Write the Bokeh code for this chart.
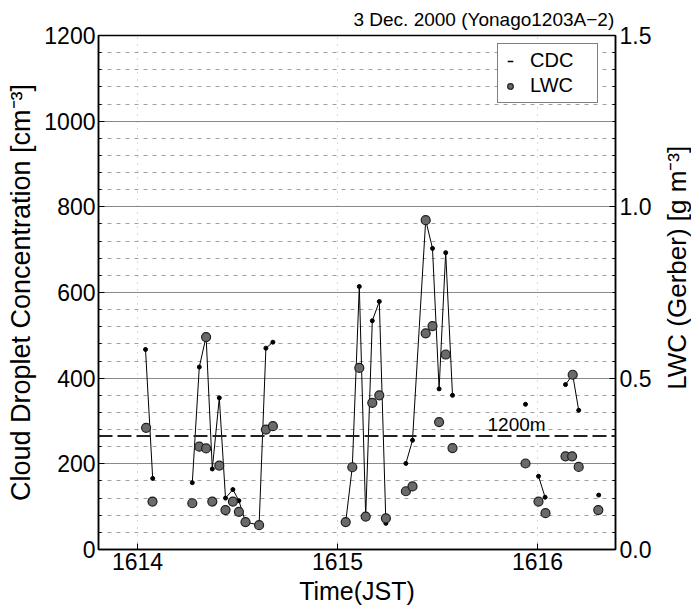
import math
from bokeh.plotting import figure
from bokeh.layouts import row
from bokeh.models import (Range1d, LinearAxis, FixedTicker, Span, Label,
                          Legend, LegendItem, ColumnDataSource, PrintfTickFormatter)
from bokeh.core.properties import value
from bokeh.embed import file_html
from bokeh.resources import INLINE

nan = float("nan")

# ---- data ----
cdc_time = [1614.040, 1614.076, nan,
            1614.274, 1614.309, 1614.343, 1614.374, 1614.409, 1614.440, 1614.477,
            1614.507, 1614.540, 1614.608, 1614.642, 1614.677, nan,
            1615.041, 1615.074, 1615.109, 1615.141, 1615.174, 1615.209, 1615.242, nan,
            1615.342, 1615.375, 1615.441, 1615.475, 1615.508, 1615.541, 1615.575, nan,
            1615.940, nan,
            1616.005, 1616.038, nan,
            1616.140, 1616.176, 1616.206, nan,
            1616.306]
cdc_value = [467, 166, nan,
             156, 426, 497, 188, 354, 120, 140,
             114, 64, 57, 470, 484, nan,
             64, 193, 614, 77, 534, 579, 61, nan,
             201, 255, 769, 703, 375, 693, 360, nan,
             339, nan,
             171, 122, nan,
             385, 408, 325, nan,
             127]

lwc_time = [1614.043, 1614.075,
            1614.274, 1614.309, 1614.343, 1614.343, 1614.374, 1614.409, 1614.440,
            1614.477, 1614.507, 1614.540, 1614.608, 1614.642, 1614.677,
            1615.041, 1615.074, 1615.109, 1615.141, 1615.174, 1615.209, 1615.242,
            1615.342, 1615.375, 1615.441, 1615.441, 1615.475, 1615.508, 1615.541, 1615.575,
            1615.940, 1616.005, 1616.040, 1616.140, 1616.173, 1616.176, 1616.206, 1616.304]
lwc_value = [0.355, 0.140,
             0.135, 0.300, 0.295, 0.620, 0.140, 0.245, 0.115,
             0.140, 0.110, 0.080, 0.071, 0.350, 0.360,
             0.080, 0.240, 0.530, 0.096, 0.428, 0.450, 0.091,
             0.170, 0.184, 0.961, 0.631, 0.652, 0.372, 0.569, 0.296,
             0.251, 0.140, 0.106, 0.272, 0.272, 0.510, 0.241, 0.115]

cdc_ticks = [0, 200, 400, 600, 800, 1000, 1200]
cdc_minor = [v for v in range(40, 1200, 40) if v % 200 != 0]
lwc_ticks = [0.0, 0.5, 1.0, 1.5]
lwc_minor = [round(0.05 * i, 2) for i in range(1, 30) if i % 10 != 0]
time_ticks = [1614, 1615, 1616]
level_cdc = 265
level_text = "1200m"
title_text = "3  Dec. 2000 (Yonago1203A\u22122)"
right_label = "LWC (Gerber) [g m\u207b\u00b3]"

FONT = "Liberation Sans"
TICK_FS = "23px"

p = figure(frame_width=517, frame_height=514,
           x_range=Range1d(1613.805, 1616.39), y_range=Range1d(0, 1200),
           output_backend="svg", toolbar_location=None,
           min_border_left=98, min_border_right=46,
           min_border_top=35, min_border_bottom=64,
           background_fill_color="white", border_fill_color="white")
p.extra_y_ranges = {"lwc": Range1d(0, 1.5)}

p.title.text = title_text
p.title.align = "right"
p.title.text_font = FONT
p.title.text_font_size = "19px"
p.title.text_font_style = "normal"
p.title.text_color = "black"
p.title.standoff = 11
p.title.offset = -4

p.outline_line_color = "black"
p.outline_line_width = 1.5

# grids
p.ygrid.ticker = FixedTicker(ticks=cdc_ticks, minor_ticks=cdc_minor)
p.ygrid.grid_line_color = "#8a8a8a"
p.ygrid.grid_line_width = 1
p.ygrid.minor_grid_line_color = "#a0a0a0"
p.ygrid.minor_grid_line_dash = "4 5"
p.ygrid.minor_grid_line_width = 1
p.xgrid.ticker = FixedTicker(ticks=time_ticks)
p.xgrid.grid_line_color = "#b0b0b0"
p.xgrid.grid_line_dash = "1 6"


def style_axis(ax, label_fs):
    ax.axis_line_width = 1.5
    ax.axis_line_color = "black"
    ax.major_tick_in = 6
    ax.major_tick_out = 0
    ax.minor_tick_in = 3
    ax.minor_tick_out = 0
    ax.major_tick_line_color = "black"
    ax.minor_tick_line_color = "black"
    ax.major_label_text_font = FONT
    ax.major_label_text_font_size = TICK_FS
    ax.major_label_text_color = "black"
    ax.axis_label_text_font = FONT
    ax.axis_label_text_font_size = label_fs
    ax.axis_label_text_font_style = "normal"
    ax.axis_label_text_color = "black"


style_axis(p.xaxis[0], "25px")
style_axis(p.yaxis[0], "27px")

p.xaxis.ticker = FixedTicker(ticks=time_ticks)
p.xaxis.axis_label = "Time(JST)"
p.xaxis.major_label_standoff = 3
p.xaxis.axis_label_standoff = 4
p.yaxis.ticker = FixedTicker(ticks=cdc_ticks, minor_ticks=cdc_minor)
p.yaxis.axis_label = "Cloud Droplet Concentration [cm\u207b\u00b3]"
p.yaxis.major_label_standoff = 3
p.yaxis.axis_label_standoff = 5

rax = LinearAxis(y_range_name="lwc",
                 ticker=FixedTicker(ticks=lwc_ticks, minor_ticks=lwc_minor),
                 formatter=PrintfTickFormatter(format="%.1f"))
style_axis(rax, "26px")
rax.major_label_standoff = 4
p.add_layout(rax, "right")

# 1200 m level line
p.add_layout(Span(location=level_cdc, dimension="width", line_color="#222222",
                  line_width=1.8, line_dash="14 5"))
p.add_layout(Label(x=1615.75, y=level_cdc, text=level_text, text_font=FONT,
                   text_font_size="19px", text_baseline="bottom", y_offset=1,
                   text_color="black"))

# CDC line + dots
src = ColumnDataSource(dict(t=cdc_time, v=cdc_value))
p.line("t", "v", source=src, line_color="black", line_width=1)
p.scatter("t", "v", source=src, size=4, color="black")

# LWC circles
p.scatter(lwc_time, lwc_value, y_range_name="lwc", size=9,
          fill_color="#6a6a6a", line_color="#1e1e1e", line_width=1.2)

# legend with proxy renderers (points placed outside the visible range)
r_cdc = p.scatter([1600], [-500], marker="dash", size=7, line_color="black", line_width=1.5)
r_lwc = p.scatter([1600], [-500], size=8, fill_color="#6a6a6a", line_color="#1e1e1e", line_width=1.2)
leg = Legend(items=[LegendItem(label="CDC", renderers=[r_cdc], index=0),
                    LegendItem(label="LWC", renderers=[r_lwc], index=0)],
             location=(399, 446), orientation="vertical",
             label_text_font=FONT, label_text_font_size="20px", label_text_color="black",
             border_line_color="black", border_line_width=1,
             glyph_width=14, glyph_height=14, label_standoff=13, label_width=62,
             padding=5, spacing=2, margin=0,
             background_fill_alpha=1.0)
p.add_layout(leg)

# narrow strip on the right carrying the LWC axis title (reads bottom to top)
p2 = figure(width=30, height=613, x_range=Range1d(0, 1), y_range=Range1d(0, 613),
            x_axis_type=None, y_axis_type=None, output_backend="svg",
            toolbar_location=None, min_border=0,
            outline_line_color=None, background_fill_color="white",
            border_fill_color="white")
p2.grid.visible = False
p2.text(x=[0.5], y=[336], text=[right_label], angle=math.pi / 2,
        text_align="center", text_baseline="middle",
        text_font=value(FONT), text_font_size=value("26px"), text_color="black")

layout = row(p, p2, spacing=0)
open("out.html", "w").write(file_html(layout, INLINE))
